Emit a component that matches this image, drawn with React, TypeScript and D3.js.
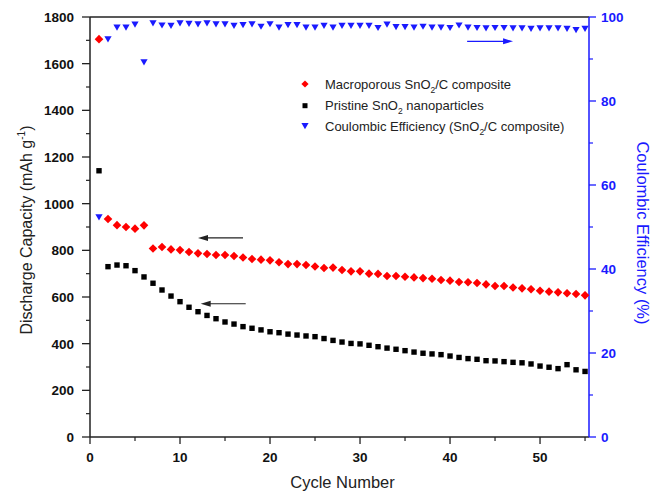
import React from "react";
import * as d3 from "d3";

const cycles = d3.range(1, 56);
const macroporous = [1705, 934, 908, 900, 893, 907, 808, 814, 804, 801,
  793, 787, 784, 780, 780, 776, 769, 763, 760, 757,
  749, 741, 741, 737, 731, 724, 726, 716, 710, 710,
  700, 699, 690, 690, 687, 684, 681, 678, 673, 670,
  664, 663, 660, 654, 647, 647, 641, 637, 633, 627,
  623, 620, 616, 613, 607];
const pristine = [1141, 730, 737, 734, 713, 686, 659, 630, 604, 580,
  556, 537, 521, 507, 493, 484, 473, 466, 459, 451,
  447, 441, 437, 433, 430, 422, 414, 407, 401, 399,
  393, 387, 381, 376, 370, 364, 359, 356, 353, 347,
  341, 336, 333, 327, 326, 323, 320, 318, 313, 304,
  299, 293, 310, 288, 281];
const efficiency = [52.3, 94.7, 97.5, 97.5, 98.2, 89.2, 98.5, 98.0, 97.9, 98.5,
  98.4, 98.25, 98.5, 98.25, 98.25, 97.9, 98.1, 98.25, 97.7, 98.3,
  97.5, 98.1, 98.1, 97.5, 97.5, 97.9, 97.5, 97.9, 97.9, 97.9,
  97.9, 97.4, 98.2, 97.6, 97.6, 97.5, 97.7, 97.5, 97.5, 97.4,
  98.0, 97.5, 97.4, 97.3, 97.4, 97.4, 97.3, 97.3, 97.2, 97.3,
  97.3, 97.3, 97.2, 96.9, 97.2];
const xTicks = [0, 10, 20, 30, 40, 50];
const xMinor = [5, 15, 25, 35, 45, 55];
const yLTicks = [0, 200, 400, 600, 800, 1000, 1200, 1400, 1600, 1800];
const yLMinor = [100, 300, 500, 700, 900, 1100, 1300, 1500, 1700];
const yRTicks = [0, 20, 40, 60, 80, 100];
const yRMinor = [10, 30, 50, 70, 90];

const BLUE = "#1a1aff";
const FONT = "'Liberation Sans', Arial, sans-serif";

export default function App() {
  const x = d3.scaleLinear().domain([0, 55.44]).range([90, 589]);
  const yL = d3.scaleLinear().domain([0, 1800]).range([437, 17]);
  const yR = d3.scaleLinear().domain([0, 100]).range([437, 17]);
  const [x0, x1] = x.range();
  const [yb, yt] = yL.range();

  const diamond = (cx: number, cy: number, r = 4.3) =>
    `M${cx},${cy - r}L${cx + r},${cy}L${cx},${cy + r}L${cx - r},${cy}Z`;
  const tri = (cx: number, cy: number) =>
    `M${cx - 3.6},${cy - 3}L${cx + 3.6},${cy - 3}L${cx},${cy + 3.2}Z`;

  const arrow = (xa: number, xb: number, y: number, color: string, key: string) => {
    const dir = Math.sign(xb - xa);
    return (
      <g key={key}>
        <line x1={xa} x2={xb - dir * 8} y1={y} y2={y} stroke={color} strokeWidth={1.2} />
        <path d={`M${xb},${y}L${xb - dir * 10},${y - 3}L${xb - dir * 10},${y + 3}Z`} fill={color} />
      </g>
    );
  };

  return (
    <svg width={653} height={493} style={{ position: "absolute", left: 0, top: 0, background: "#fff" }} fontFamily={FONT}>
      <rect width={653} height={493} fill="#fff" />
      {/* frame */}
      <line x1={x0} x2={x1} y1={yt} y2={yt} stroke="#222" strokeWidth={1.5} />
      <line x1={x0} x2={x1} y1={yb} y2={yb} stroke="#222" strokeWidth={1.5} />
      <line x1={x0} x2={x0} y1={yt} y2={yb} stroke="#222" strokeWidth={1.5} />
      <line x1={x1} x2={x1} y1={yt} y2={yb} stroke={BLUE} strokeWidth={1.5} />

      {/* left ticks */}
      {yLTicks.map(t => (
        <g key={"yl" + t}>
          <line x1={x0 - 8} x2={x0} y1={yL(t)} y2={yL(t)} stroke="#222" strokeWidth={1.3} />
          <text x={74} y={yL(t) + 5} textAnchor="end" fontSize={13.5} fontWeight="bold" fill="#111">{t}</text>
        </g>
      ))}
      {yLMinor.map(t => (
        <line key={"ylm" + t} x1={x0 - 4} x2={x0} y1={yL(t)} y2={yL(t)} stroke="#222" strokeWidth={1.2} />
      ))}
      {/* right ticks */}
      {yRTicks.map(t => (
        <g key={"yr" + t}>
          <line x1={x1} x2={x1 + 7} y1={yR(t)} y2={yR(t)} stroke={BLUE} strokeWidth={1.3} />
          <text x={601} y={yR(t) + 5} textAnchor="start" fontSize={13.5} fontWeight="bold" fill={BLUE}>{t}</text>
        </g>
      ))}
      {yRMinor.map(t => (
        <line key={"yrm" + t} x1={x1} x2={x1 + 4} y1={yR(t)} y2={yR(t)} stroke={BLUE} strokeWidth={1.2} />
      ))}
      {/* bottom ticks */}
      {xTicks.map(t => (
        <g key={"x" + t}>
          <line x1={x(t)} x2={x(t)} y1={yb} y2={yb + 7} stroke="#222" strokeWidth={1.3} />
          <text x={x(t)} y={462} textAnchor="middle" fontSize={13.5} fontWeight="bold" fill="#111">{t}</text>
        </g>
      ))}
      {xMinor.map(t => (
        <line key={"xm" + t} x1={x(t)} x2={x(t)} y1={yb} y2={yb + 4} stroke="#222" strokeWidth={1.2} />
      ))}

      {/* axis titles */}
      <text x={x(27.5) + 5} y={488} textAnchor="middle" fontSize={16.5} fill="#222">Cycle Number</text>
      <text transform="translate(32,230) rotate(-90)" textAnchor="middle" fontSize={16} fill="#222">
        Discharge Capacity (mAh g<tspan fontSize={10} dy={-7}>-1</tspan><tspan dy={7}>)</tspan>
      </text>
      <text transform="translate(637,233) rotate(90)" textAnchor="middle" fontSize={16.5} fill={BLUE}>
        Coulombic Efficiency (%)
      </text>

      {/* data */}
      {cycles.map((c, i) => (
        <rect key={"p" + c} x={x(c) - 2.7} y={yL(pristine[i]) - 2.7} width={5.4} height={5.4} fill="#000" />
      ))}
      {cycles.map((c, i) => (
        <path key={"m" + c} d={diamond(x(c), yL(macroporous[i]))} fill="#ff0000" />
      ))}
      {cycles.map((c, i) => (
        <path key={"e" + c} d={tri(x(c), yR(efficiency[i]))} fill={BLUE} />
      ))}

      {/* arrows */}
      {arrow(x(17), x(12), yL(853), "#222", "a1")}
      {arrow(x(17.3), x(12.3), yL(571), "#222", "a2")}
      {arrow(x(41.9), x(47), yR(94.2), BLUE, "a3")}

      {/* legend */}
      <path d={diamond(305, 84, 3.6)} fill="#ff0000" />
      <text x={325} y={88.5} fontSize={13} fill="#222">
        Macroporous SnO<tspan fontSize={8.5} dy={4}>2</tspan><tspan dy={-4}>/C composite</tspan>
      </text>
      <rect x={302.5} y={103.2} width={5} height={5} fill="#000" />
      <text x={325} y={110} fontSize={13} fill="#222">
        Pristine SnO<tspan fontSize={8.5} dy={4}>2</tspan><tspan dy={-4}> nanoparticles</tspan>
      </text>
      <path d={tri(305, 126)} fill={BLUE} />
      <text x={325} y={131} fontSize={13} fill="#222">
        Coulombic Efficiency (SnO<tspan fontSize={8.5} dy={4}>2</tspan><tspan dy={-4}>/C composite)</tspan>
      </text>
    </svg>
  );
}
